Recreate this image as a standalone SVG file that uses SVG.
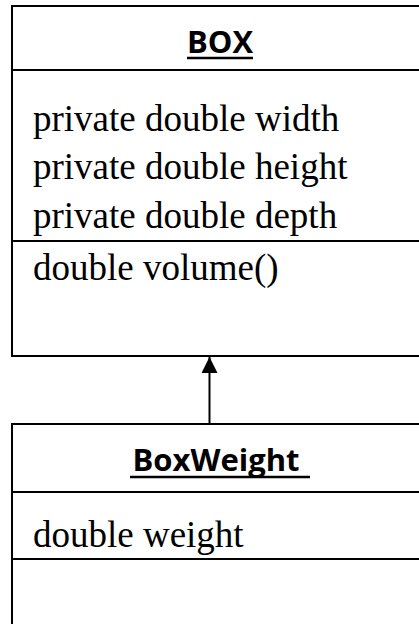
<svg xmlns="http://www.w3.org/2000/svg" width="419" height="624" viewBox="0 0 419 624">
<defs>
<style>
.box{fill:#fff;stroke:#000;stroke-width:2}
.div{stroke:#000;stroke-width:2}
.title{font-family:"Open Sans","Liberation Sans",sans-serif;font-weight:bold;font-size:31px;fill:#000;text-anchor:middle}
.ul{stroke:#000;stroke-width:2.5}
.mem{font-family:"Liberation Serif","Times New Roman",serif;font-size:37px;fill:#000}
</style>
<marker id="arr" viewBox="0 0 16 16" markerWidth="16" markerHeight="16" refX="16" refY="8" orient="auto" markerUnits="userSpaceOnUse">
<path d="M0,0 L16,8 L0,16 Z" fill="#000"/>
</marker>
</defs>
<rect width="419" height="624" fill="#fff"/>
<g id="BOX">
<rect class="box" x="12" y="6" width="430" height="350"/>
<line class="div" x1="12" y1="70" x2="430" y2="70"/>
<line class="div" x1="12" y1="241" x2="430" y2="241"/>
<text class="title" x="220" y="53">BOX</text>
<line class="ul" x1="187" y1="58" x2="253" y2="58"/>
<text class="mem" x="33" y="131">private double width</text>
<text class="mem" x="33" y="179">private double height</text>
<text class="mem" x="33" y="227.5">private double depth</text>
<text class="mem" x="33" y="279.5">double volume()</text>
</g>
<g id="BoxWeight">
<rect class="box" x="12" y="424" width="430" height="230"/>
<line class="div" x1="12" y1="492" x2="430" y2="492"/>
<line class="div" x1="12" y1="559" x2="430" y2="559"/>
<text class="title" x="216" y="471">BoxWeight</text>
<line class="ul" x1="130" y1="477" x2="310" y2="477"/>
<text class="mem" x="33" y="547">double weight</text>
</g>
<g id="connectors">
<line x1="209.5" y1="424" x2="209.5" y2="357" stroke="#000" stroke-width="2" marker-end="url(#arr)"/>
</g>
</svg>
